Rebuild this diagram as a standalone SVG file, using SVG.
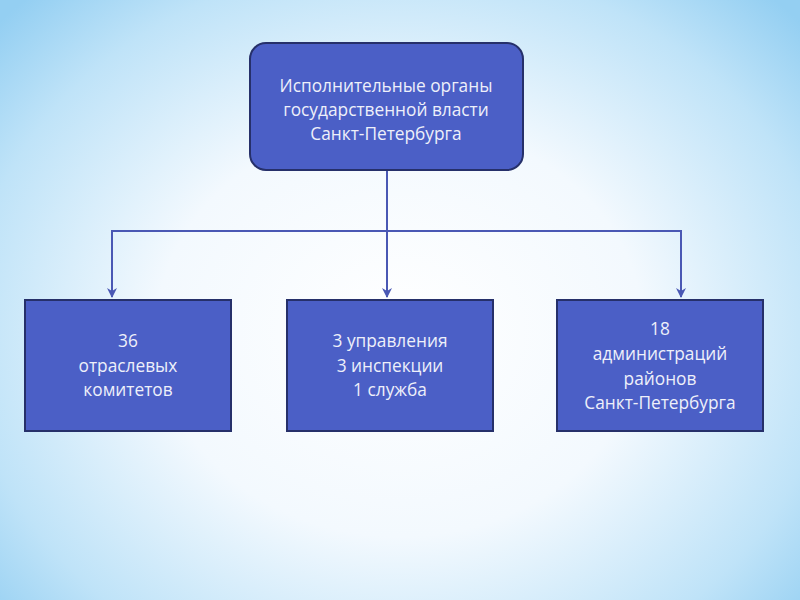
<svg xmlns="http://www.w3.org/2000/svg" width="800" height="600" viewBox="0 0 800 600">
<defs>
<radialGradient id="bg" cx="400" cy="330" r="540" gradientUnits="userSpaceOnUse" gradientTransform="translate(400 330) scale(1 0.85) translate(-400 -330)">
<stop offset="0" stop-color="#ffffff"/>
<stop offset="0.45" stop-color="#f3f9fe"/>
<stop offset="0.8" stop-color="#bfe3f8"/>
<stop offset="1" stop-color="#94cff2"/>
</radialGradient>
<marker id="arr" viewBox="0 0 10 10" refX="9" refY="5" markerWidth="5" markerHeight="5" orient="auto" markerUnits="strokeWidth">
<path d="M0,0 L10,5 L0,10 L3,5 z" fill="#4a58b4"/>
</marker>
<style>
.box{fill:#4b5fc6;stroke:#26306a;stroke-width:2}
.t{font-family:"Open Sans","DejaVu Sans",sans-serif;font-size:17.3px;fill:#eef0fa;text-anchor:middle}
.c{fill:none;stroke:#4a58b4;stroke-width:2}
</style>
</defs>
<rect width="800" height="600" fill="url(#bg)"/>
<g id="connectors">
<line class="c" x1="387" y1="171" x2="387" y2="297" marker-end="url(#arr)"/>
<polyline class="c" points="112,297 112,231 681,231 681,297" marker-end="url(#arr)"/>
<line class="c" x1="112" y1="231" x2="112" y2="297" marker-end="url(#arr)"/>
</g>
<g id="root">
<rect class="box" x="250" y="43" width="273" height="127" rx="16"/>
<text class="t" x="386" y="92">Исполнительные органы</text>
<text class="t" x="386" y="116">государственной власти</text>
<text class="t" x="386" y="140">Санкт-Петербурга</text>
</g>
<g id="committees">
<rect class="box" x="25" y="300" width="206" height="131"/>
<text class="t" x="128" y="347">36</text>
<text class="t" x="128" y="372">отраслевых</text>
<text class="t" x="128" y="396">комитетов</text>
</g>
<g id="departments">
<rect class="box" x="287" y="300" width="206" height="131"/>
<text class="t" x="390" y="347">3 управления</text>
<text class="t" x="390" y="372">3 инспекции</text>
<text class="t" x="390" y="396">1 служба</text>
</g>
<g id="districts">
<rect class="box" x="557" y="300" width="206" height="131"/>
<text class="t" x="660" y="335">18</text>
<text class="t" x="660" y="360">администраций</text>
<text class="t" x="660" y="385">районов</text>
<text class="t" x="660" y="409">Санкт-Петербурга</text>
</g>
</svg>
